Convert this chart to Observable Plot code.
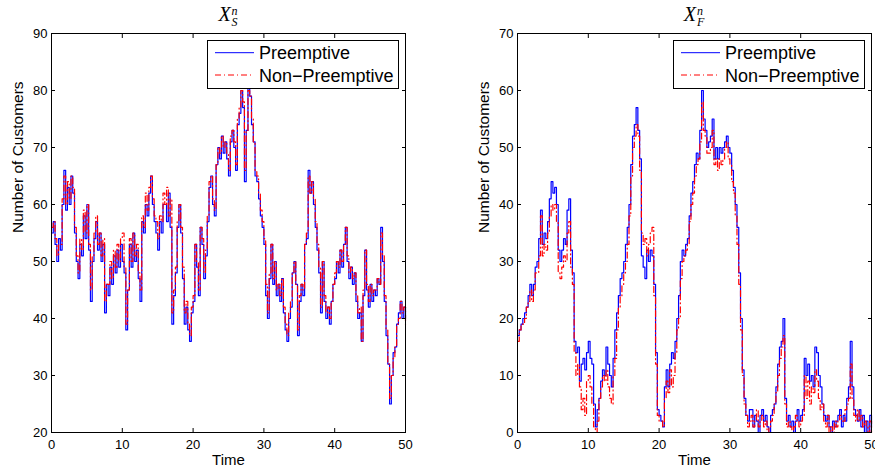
<!DOCTYPE html>
<html>
<head>
<meta charset="utf-8">
<script src="https://cdn.jsdelivr.net/npm/d3@7"></script>
<script src="https://cdn.jsdelivr.net/npm/@observablehq/plot@0.6"></script>
<style>
  html, body { margin: 0; padding: 0; background: #fff; }
  #wrap { position: relative; width: 875px; height: 467px; overflow: hidden; font-family: "Liberation Sans", Arial, Helvetica, sans-serif; }
  .panel { position: absolute; top: 0; }
  .title { position: absolute; top: 4px; font-family: "Liberation Serif", "Times New Roman", serif; font-size: 20px; font-style: italic; line-height: 1; transform: translateX(-50%); white-space: nowrap; }
  .ss { display: inline-block; font-size: 12px; line-height: 11px; vertical-align: -5px; margin-left: 1px; }
  .ss span { display: block; }
  .legend { position: absolute; top: 40px; }
</style>
</head>
<body>
<div id="wrap"></div>
<script>
// ---------- data ----------
const timeStep = 0.25; // sampling interval of the recorded paths (time units)
const xTicks = [0, 10, 20, 30, 40, 50];
const yTicksS = [20, 30, 40, 50, 60, 70, 80, 90];
const yTicksF = [0, 10, 20, 30, 40, 50, 60, 70];
const seriesNames = ["Preemptive", "Non\u2212Preemptive"];

// X_S^n, Preemptive
const xsPre = [
  55,57,53,50, 54,52,60,66, 59,63,60,65, 62,55,50,47, 53,51,58,54,
  60,52,43,50, 54,57,52,55, 50,53,41,46, 44,49,46,51, 48,52,49,53,
  50,48,38,45, 53,49,55,50, 52,47,43,57, 55,60,58,62, 65,60,57,55,
  52,57,55,60, 60,57,62,56, 39,44,48,56, 60,55,47,39, 42,38,36,41,
  43,53,49,44, 56,53,47,51, 57,63,65,60, 58,67,70,68, 72,69,71,68,
  65,71,73,70, 66,74,76,80, 77,64,73,81, 79,74,71,65, 64,61,58,56,
  53,44,40,47, 53,46,50,44, 46,43,47,41, 38,36,40,42, 48,50,46,37,
  43,46,44,53, 54,66,62,64, 60,56,52,48, 41,50,43,40, 42,39,43,46,
  47,50,48,52, 49,53,56,50, 47,49,46,48, 43,40,41,36, 44,52,45,42,
  46,43,45,44, 47,46,56,50, 43,37,32,25, 30,34,35,39, 41,43,40,42,
  40
];
// X_S^n, Non-Preemptive
const xsNon = [
  56,57,54,51, 53,53,61,65, 60,64,61,65, 63,56,51,48, 54,52,59,55,
  60,53,45,51, 55,58,53,55, 51,54,43,46, 46,50,47,52, 49,53,50,54,
  55,49,39,45, 54,50,55,51, 53,48,45,58, 56,62,59,63, 65,61,58,57,
  54,58,57,62, 60,63,58,61, 41,45,49,57, 60,56,49,41, 43,39,37,42,
  44,53,50,45, 56,54,48,52, 58,64,65,61, 59,67,70,69, 72,70,71,69,
  66,72,73,71, 67,75,77,80, 78,66,73,80, 79,75,71,66, 65,62,59,57,
  54,46,41,48, 53,47,50,45, 46,44,47,42, 39,37,41,43, 48,50,46,38,
  44,46,45,53, 55,65,62,64, 61,57,53,49, 42,50,44,41, 42,40,43,46,
  48,50,49,52, 50,53,56,51, 48,49,47,48, 44,41,42,36, 45,52,46,43,
  46,44,45,45, 47,46,55,51, 44,38,32,26, 30,33,35,39, 40,43,41,42,
  39
];
// X_F^n, Preemptive
const xfPre = [
  17,18,19,20, 21,22,24,26, 24,26,29,30, 34,39,33,35, 34,37,41,44,
  42,43,40,32, 30,32,34,33, 39,41,32,28, 16,14,15,9, 12,13,11,14,
  16,13,12,5, 1,4,6,9, 11,10,15,12, 10,8,13,18, 21,24,27,28,
  30,33,36,40, 47,52,54,57, 53,48,31,29, 27,32,30,32, 31,26,14,4,
  3,2,1,8, 11,8,12,14, 13,16,20,24, 30,32,31,33, 34,38,42,44,
  47,49,48,53, 60,55,53,50, 51,52,55,48, 50,48,50,49, 50,51,52,50,
  49,46,43,40, 36,28,20,11, 6,3,2,4, 4,1,3,2, 0,3,4,2,
  3,1,0,3, 4,5,8,12, 15,16,20,6, 2,3,1,2, 0,2,4,2,
  3,4,13,10, 12,9,10,8, 15,14,10,8, 5,3,2,3, 1,0,2,1,
  2,3,4,1, 3,2,6,8, 16,8,4,3, 2,4,1,3, 0,2,0,3,
  1
];
// X_F^n, Non-Preemptive
const xfNon = [
  16,18,19,19, 20,22,23,25, 23,25,28,28, 31,38,31,33, 32,35,38,40,
  39,40,37,28, 27,29,31,30, 35,37,29,26, 14,10,12,8, 4,6,3,9,
  10,8,5,1, 0,2,6,8, 10,9,11,8, 6,5,10,13, 18,22,24,26,
  28,30,33,38, 45,50,52,54, 52,46,35,33, 34,31,33,35, 36,24,12,3,
  2,2,1,6, 9,7,11,8, 10,14,18,20, 27,30,31,32, 33,37,40,42,
  45,47,48,51, 58,53,52,49, 49,50,53,47, 48,46,48,47, 48,50,51,48,
  47,44,42,38, 33,26,18,10, 5,3,1,2, 3,1,2,4, 1,2,3,1,
  2,0,1,2, 3,5,7,10, 13,15,17,5, 1,2,1,0, 1,3,2,1,
  2,3,10,6, 9,5,8,7, 11,9,6,4, 5,2,1,3, 0,1,0,2,
  1,2,3,2, 2,4,5,6, 12,6,3,2, 4,2,3,1, 2,1,0,2,
  0
];

// ---------- drawing ----------
const BLUE = "#0000ff", RED = "#ff0000", DASH = "6,3,1,3";
const rows = vals => vals.map((v, i) => ({t: i * timeStep, v}));

function panel({pre, non, yDomain, yTicks, width, marginLeft, marginRight}) {
  return Plot.plot({
    width, height: 467,
    marginLeft, marginRight, marginTop: 33, marginBottom: 35,
    style: {fontFamily: '"Liberation Sans", Arial, Helvetica, sans-serif', fontSize: "13px", color: "#000", background: "transparent"},
    x: {domain: [0, 50]},
    y: {domain: yDomain},
    marks: [
      Plot.lineY(rows(pre), {x: "t", y: "v", stroke: BLUE, strokeWidth: 1.2, curve: "step-after"}),
      Plot.lineY(rows(non), {x: "t", y: "v", stroke: RED, strokeWidth: 1.2, strokeDasharray: DASH, curve: "step-after"}),
      Plot.frame({stroke: "#000", strokeWidth: 1}),
      Plot.axisX({anchor: "bottom", ticks: xTicks, tickSize: -4, tickPadding: 11, label: null}),
      Plot.axisX({anchor: "top", ticks: xTicks, tickSize: -4, tickFormat: () => "", label: null}),
      Plot.axisY({anchor: "left", ticks: yTicks, tickSize: -4, tickPadding: 8, label: null}),
      Plot.axisY({anchor: "right", ticks: yTicks, tickSize: -4, tickFormat: () => "", label: null}),
      Plot.text(["Time"], {frameAnchor: "bottom", dy: 27.5, fontSize: 15, lineAnchor: "middle"}),
      Plot.text(["Number of Customers"], {frameAnchor: "left", dx: -33, rotate: -90, fontSize: 15.5, lineAnchor: "middle"})
    ]
  });
}

function legendSvg(left) {
  const ns = "http://www.w3.org/2000/svg";
  const svg = document.createElementNS(ns, "svg");
  svg.setAttribute("width", 192); svg.setAttribute("height", 49);
  svg.setAttribute("class", "legend");
  svg.style.left = left + "px";
  svg.innerHTML = `
    <rect x="0.5" y="0.5" width="191" height="48" fill="#fff" stroke="#000" stroke-width="1"/>
    <line x1="8" x2="47" y1="12.7" y2="12.7" stroke="${BLUE}" stroke-width="1"/>
    <line x1="8" x2="47" y1="35" y2="35" stroke="${RED}" stroke-width="1" stroke-dasharray="${DASH}"/>
    <text x="52" y="19.3" font-size="18" font-family='"Liberation Sans", Arial, sans-serif'>${seriesNames[0]}</text>
    <text x="52" y="41.7" font-size="18" font-family='"Liberation Sans", Arial, sans-serif'>${seriesNames[1]}</text>`;
  return svg;
}

function title(sub, center) {
  const d = document.createElement("div");
  d.className = "title";
  d.style.left = center + "px";
  d.innerHTML = `X<span class="ss"><span>n</span><span>${sub}</span></span>`;
  return d;
}

const wrap = document.getElementById("wrap");

const left = document.createElement("div");
left.className = "panel"; left.style.left = "0px";
left.appendChild(panel({pre: xsPre, non: xsNon, yDomain: [20, 90], yTicks: yTicksS, width: 437, marginLeft: 51, marginRight: 32}));
wrap.appendChild(left);

const right = document.createElement("div");
right.className = "panel"; right.style.left = "437px";
right.appendChild(panel({pre: xfPre, non: xfNon, yDomain: [0, 70], yTicks: yTicksF, width: 438, marginLeft: 80, marginRight: 4}));
wrap.appendChild(right);

wrap.appendChild(title("S", 228));
wrap.appendChild(title("F", 694));
wrap.appendChild(legendSvg(207));
wrap.appendChild(legendSvg(673));
</script>
</body>
</html>
